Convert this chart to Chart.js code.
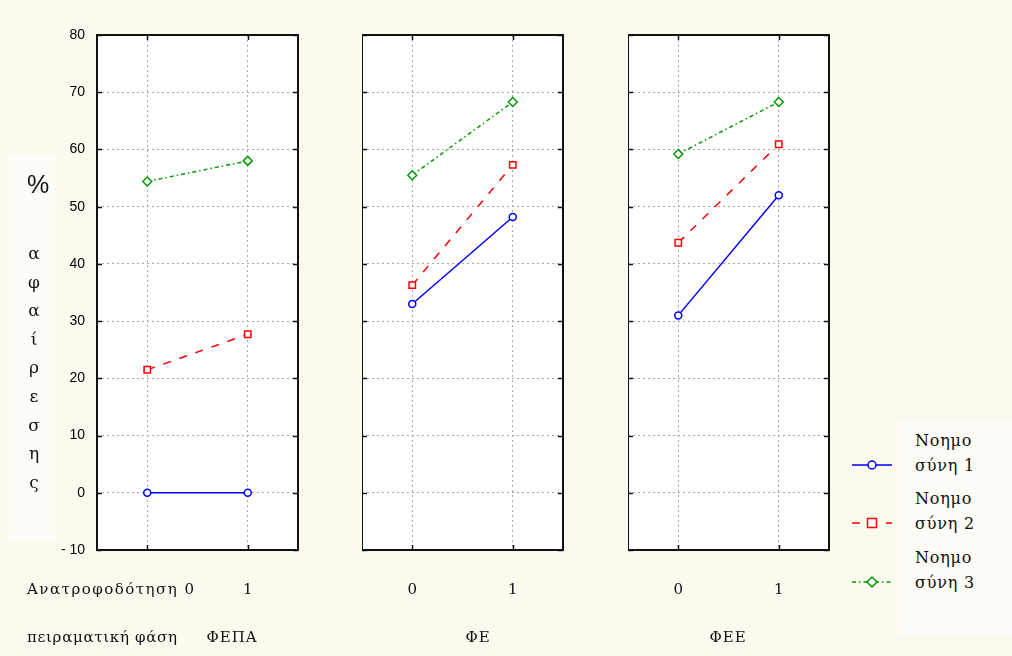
<!DOCTYPE html>
<html>
<head>
<meta charset="utf-8">
<script src="https://cdn.jsdelivr.net/npm/chart.js@4"></script>
<style>
  html, body { margin: 0; padding: 0; }
  body { width: 1012px; height: 656px; background: #fcf9ee; position: relative; overflow: hidden; }
  canvas { position: absolute; top: 0; }
  .txt { position: absolute; font-family: "DejaVu Serif", serif; font-size: 15px; color: #111; white-space: nowrap; line-height: 1; }
  .box { position: absolute; background: #fdfcf7; }
  #ylab { position: absolute; left: 23px; top: 239px; width: 22px; text-align: center; font-family: "DejaVu Serif", serif; font-size: 17px; line-height: 28.6px; color: #111; }
  #pct { position: absolute; left: 27px; top: 170px; font-family: "Liberation Sans", sans-serif; font-size: 25px; color: #111; }
  #legend { position: absolute; left: 850px; top: 428px; }
  .leg { position: absolute; left: 0; width: 160px; height: 60px; }
  .leg svg { position: absolute; left: 0; }
  .leg .lt { position: absolute; left: 65px; font-family: "DejaVu Serif", serif; font-size: 16px; letter-spacing: 0.8px; line-height: 25px; color: #111; white-space: nowrap; }
</style>
</head>
<body>
<div class="box" style="left:9px;top:155px;width:46px;height:385px;"></div>
<div class="box" style="left:897px;top:422px;width:115px;height:213px;"></div>
<canvas id="c0"></canvas>
<canvas id="c1"></canvas>
<canvas id="c2"></canvas>
<div id="pct">%</div>
<div id="ylab"></div>
<div id="legend"></div>
<div class="txt" style="left:27px;top:582px;letter-spacing:1.5px;">Ανατροφοδότηση 0</div>
<div class="txt" style="left:27px;top:630px;letter-spacing:0.7px;">πειραματική φάση</div>
<script>
// data
var phases = ["ΦΕΠΑ", "ΦΕ", "ΦΕΕ"];
var feedback = ["0", "1"];
var seriesNames = ["Νοημοσύνη 1", "Νοημοσύνη 2", "Νοημοσύνη 3"];
// one pair per phase: [feedback 0, feedback 1]
var noimosini1 = [[0, 0], [33, 48.2], [31, 52]];
var noimosini2 = [[21.5, 27.7], [36.3, 57.3], [43.7, 60.9]];
var noimosini3 = [[54.4, 58], [55.5, 68.3], [59.2, 68.3]];
var yMin = -10, yMax = 80, yStep = 10;
var yTitle = "αφαίρεσης";

var colors = ["#0000ff", "#ff0000", "#009a00"];
var dashes = [[], [8, 9], [4, 3, 1.5, 3]];
var pointStyles = ["circle", "rect", "rectRot"];
var pointRadii = [3.5, 4.5, 4.5];
var allSeries = [noimosini1, noimosini2, noimosini3];

var panelLeft = [97, 362, 628];
var panelWidth = 201;
var panelTop = 35;
var panelBottom = 550;
var pageH = 656;
var xLabelY = 590;

// frame with inward tick marks, plus the 0/1 labels under the x axis
var framePlugin = {
  id: "frame",
  afterDraw: function (chart, args, opts) {
    var ctx = chart.ctx;
    var a = chart.chartArea;
    var x = chart.scales.x, y = chart.scales.y;
    ctx.save();
    ctx.strokeStyle = "#111";
    ctx.lineWidth = 2;
    ctx.strokeRect(a.left, a.top, a.right - a.left, a.bottom - a.top);
    ctx.lineWidth = 1.5;
    ctx.beginPath();
    y.ticks.forEach(function (t) {
      var py = Math.round(y.getPixelForValue(t.value)) + 0.5;
      ctx.moveTo(a.left, py); ctx.lineTo(a.left + 5, py);
      ctx.moveTo(a.right, py); ctx.lineTo(a.right - 5, py);
    });
    x.ticks.forEach(function (t, i) {
      var px = Math.round(x.getPixelForTick(i)) + 0.5;
      ctx.moveTo(px, a.top); ctx.lineTo(px, a.top + 5);
      ctx.moveTo(px, a.bottom); ctx.lineTo(px, a.bottom - 5);
    });
    ctx.stroke();

    ctx.fillStyle = "#111";
    ctx.font = "15px 'DejaVu Serif'";
    ctx.textAlign = "center";
    ctx.textBaseline = "middle";
    x.ticks.forEach(function (t, i) {
      if (opts.skipFirst && i == 0) return;
      ctx.fillText(feedback[i], x.getPixelForTick(i), xLabelY);
    });
    ctx.restore();
  }
};

var whiteArea = {
  id: "whiteArea",
  beforeDraw: function (chart) {
    var a = chart.chartArea;
    chart.ctx.save();
    chart.ctx.fillStyle = "#ffffff";
    chart.ctx.fillRect(a.left, a.top, a.right - a.left, a.bottom - a.top);
    chart.ctx.restore();
  }
};

function make_panel(i) {
  var leftW = i == 0 ? panelLeft[0] : 0;
  var canvas = document.getElementById("c" + i);
  canvas.width = leftW + panelWidth + 2;
  canvas.height = pageH;
  canvas.style.left = (panelLeft[i] - leftW) + "px";
  canvas.style.width = canvas.width + "px";
  canvas.style.height = pageH + "px";

  var datasets = [];
  for (var s = 0; s < allSeries.length; s++) {
    datasets.push({
      label: seriesNames[s],
      data: allSeries[s][i],
      borderColor: colors[s],
      borderWidth: 1.5,
      borderDash: dashes[s],
      pointStyle: pointStyles[s],
      pointRadius: pointRadii[s],
      pointBorderWidth: 1.5,
      pointBorderColor: colors[s],
      pointBackgroundColor: "#ffffff",
      tension: 0,
      fill: false
    });
  }

  var config = {
    type: "line",
    data: { labels: feedback, datasets: datasets },
    options: {
      responsive: false,
      animation: false,
      layout: { autoPadding: false, padding: { top: panelTop, right: 2, left: 0, bottom: 0 } },
      plugins: {
        legend: { display: false },
        tooltip: { enabled: false },
        frame: { skipFirst: i == 0 }
      },
      scales: {
        x: {
          type: "category",
          offset: true,
          grid: { offset: false, color: "#a8a8a8", lineWidth: 1, drawTicks: false },
          border: { display: false, dash: [2, 3] },
          ticks: { display: false },
          afterFit: function (scale) { scale.height = pageH - panelBottom; }
        },
        y: {
          min: yMin,
          max: yMax,
          grid: { color: "#a8a8a8", lineWidth: 1, drawTicks: false },
          border: { display: false, dash: [2, 3] },
          ticks: {
            display: i == 0,
            stepSize: yStep,
            padding: 12,
            color: "#000",
            font: { family: "Liberation Sans", size: 14 },
            callback: function (v) { return v < 0 ? "- " + (-v) : "" + v; }
          },
          afterFit: function (scale) { scale.width = leftW; }
        }
      }
    },
    plugins: [whiteArea, framePlugin]
  };
  new Chart(canvas.getContext("2d"), config);

  // phase label under each panel
  var lab = document.createElement("div");
  lab.className = "txt";
  lab.textContent = phases[i];
  lab.style.top = "630px";
  lab.style.letterSpacing = "1px";
  var cx = [232, 478, 728][i];
  lab.style.left = cx + "px";
  lab.style.transform = "translateX(-50%)";
  document.body.appendChild(lab);
}

function make_ylabel() {
  var el = document.getElementById("ylab");
  for (var k = 0; k < yTitle.length; k++) {
    var d = document.createElement("div");
    d.textContent = yTitle[k];
    el.appendChild(d);
  }
}

function make_legend() {
  var el = document.getElementById("legend");
  var rows = [0, 58, 117];
  for (var s = 0; s < seriesNames.length; s++) {
    var row = document.createElement("div");
    row.className = "leg";
    row.style.top = rows[s] + "px";
    var dash = dashes[s].length ? dashes[s].join(",") : "none";
    var marker = "";
    if (pointStyles[s] == "circle") marker = "<circle cx='22' cy='37' r='4' fill='#fff' stroke='" + colors[s] + "' stroke-width='1.5'/>";
    if (pointStyles[s] == "rect") marker = "<rect x='17.5' y='32.5' width='9' height='9' fill='#fff' stroke='" + colors[s] + "' stroke-width='1.5'/>";
    if (pointStyles[s] == "rectRot") marker = "<polygon points='22,32 27,37 22,42 17,37' fill='#fff' stroke='" + colors[s] + "' stroke-width='1.5'/>";
    row.innerHTML =
      "<svg width='44' height='60'><line x1='2' y1='37' x2='42' y2='37' stroke='" + colors[s] +
      "' stroke-width='1.5' stroke-dasharray='" + dash + "'/>" + marker + "</svg>" +
      "<div class='lt'>" + seriesNames[s].slice(0, 5) + "<br>" + seriesNames[s].slice(5) + "</div>";
    el.appendChild(row);
  }
}

make_ylabel();
make_legend();
for (var p = 0; p < phases.length; p++) make_panel(p);
</script>
</body>
</html>
